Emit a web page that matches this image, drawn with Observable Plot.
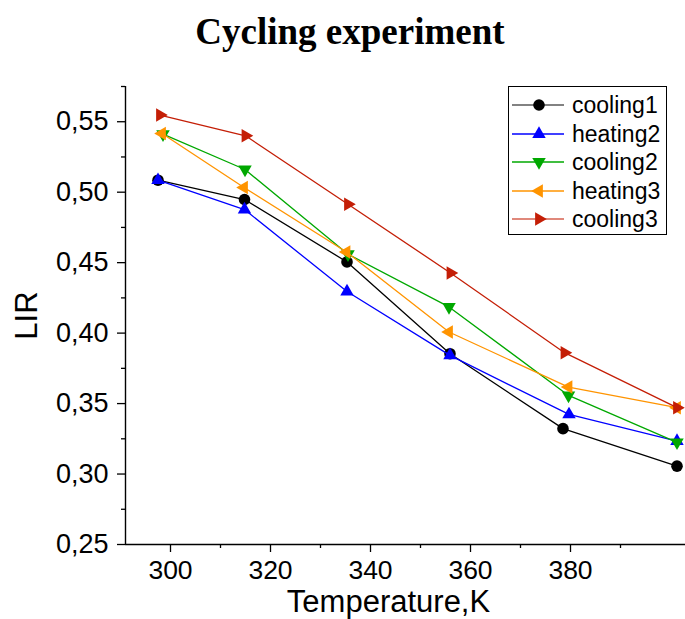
<!DOCTYPE html>
<html><head><meta charset="utf-8">
<script src="https://cdn.jsdelivr.net/npm/d3@7"></script>
<script src="https://cdn.jsdelivr.net/npm/@observablehq/plot@0.6"></script>
<style>
body{margin:0;background:#fff;}
#wrap{position:relative;width:685px;height:619px;overflow:hidden;background:#fff;}
#title{position:absolute;left:0;width:700px;top:10px;line-height:37px;text-align:center;font:bold 37px "Liberation Serif","Times New Roman",serif;color:#000;}
#legend{position:absolute;left:508px;top:86px;width:157px;height:147px;border:1.3px solid #000;background:#fff;font-family:"Liberation Sans",Arial,sans-serif;}
.row{position:absolute;left:0;height:28px;width:157px;}
.row svg{position:absolute;left:0;top:0;}
.row span{position:absolute;left:63px;top:0;line-height:28px;font-size:23px;color:#000;}
</style></head><body>
<div id="wrap"><div id="chart"></div><div id="title">Cycling experiment</div><div id="legend"></div></div>
<script>
// ---- data ----
const seriesNames = ["cooling1", "heating2", "cooling2", "heating3", "cooling3"];
const seriesColors = ["#000000", "#0000ff", "#00a800", "#ff9400", "#c41e06"];

const tempCooling1 = [297.5, 314.8, 335.3, 355.9, 378.5, 401.3];
const lirCooling1  = [0.5085, 0.4948, 0.4505, 0.3854, 0.3322, 0.3056];
const tempHeating2 = [297.5, 314.8, 335.3, 355.9, 379.7, 401.3];
const lirHeating2  = [0.5085, 0.4877, 0.4295, 0.3842, 0.3423, 0.3234];
const tempCooling2 = [298.5, 314.9, 335.5, 355.7, 379.6, 401.3];
const lirCooling2  = [0.5412, 0.5161, 0.4560, 0.4186, 0.3558, 0.3225];
const tempHeating3 = [298.3, 314.7, 335.2, 355.7, 379.6, 401.3];
const lirHeating3  = [0.5417, 0.5033, 0.4576, 0.4008, 0.3617, 0.3471];
const tempCooling3 = [297.9, 315.0, 335.5, 356.0, 378.8, 401.3];
const lirCooling3  = [0.5547, 0.5400, 0.4915, 0.4427, 0.3861, 0.3471];

const xTicks = [300, 320, 340, 360, 380];
const xMinorTicks = [310, 330, 350, 370, 390];
const yTicks = [0.25, 0.30, 0.35, 0.40, 0.45, 0.50, 0.55];
const yMinorTicks = [0.275, 0.325, 0.375, 0.425, 0.475, 0.525, 0.575];
const xDomain = [291, 403];
const yDomain = [0.25, 0.575];

// ---- symbols ----
const s3 = Math.sqrt(3);
function tri(rot) {
  return {draw(ctx, size) {
    const y = -Math.sqrt(size / (s3 * 3));
    const pts = [[0, y * 2], [-s3 * y, -y], [s3 * y, -y]].map(([a, b]) => rot(a, b));
    ctx.moveTo(pts[0][0], pts[0][1]); ctx.lineTo(pts[1][0], pts[1][1]); ctx.lineTo(pts[2][0], pts[2][1]); ctx.closePath();
  }};
}
const symbols = [
  d3.symbolCircle,
  tri((a, b) => [a, b]),
  tri((a, b) => [a, -b]),
  tri((a, b) => [b, a]),
  tri((a, b) => [-b, a])
];
const radii = [5.8, 5, 5, 5, 5];

const temps = [tempCooling1, tempHeating2, tempCooling2, tempHeating3, tempCooling3];
const lirs = [lirCooling1, lirHeating2, lirCooling2, lirHeating3, lirCooling3];
const seriesData = seriesNames.map((s, i) => temps[i].map((t, j) => ({series: s, T: t, LIR: lirs[i][j]})));

const fmt = d => d.toFixed(2).replace(".", ",");
const axisFont = "Liberation Sans, Arial, sans-serif";

const marks = [
  Plot.axisX({ticks: xTicks, tickSize: 8, tickPadding: 8, fontSize: 26.5, label: null, strokeWidth: 1.3, tickFormat: d => String(d)}),
  Plot.axisX({ticks: xMinorTicks, tickSize: 4, label: null, strokeWidth: 1.3, tickFormat: () => ""}),
  Plot.axisY({ticks: yTicks, tickSize: 8, tickPadding: 9, fontSize: 27, label: null, strokeWidth: 1.3, tickFormat: fmt}),
  Plot.axisY({ticks: yMinorTicks, tickSize: 4, label: null, strokeWidth: 1.3, tickFormat: () => ""}),
  Plot.ruleX([xDomain[0]], {stroke: "#000", strokeWidth: 1.4}),
  Plot.ruleY([yDomain[0]], {stroke: "#000", strokeWidth: 1.4}),
  Plot.text(["Temperature,K"], {frameAnchor: "bottom", lineAnchor: "middle", textAnchor: "middle", dx: -17, dy: 58, fontSize: 31, fill: "#000"}),
  Plot.text(["LIR"], {frameAnchor: "left", lineAnchor: "middle", textAnchor: "middle", dx: -98, rotate: -90, fontSize: 31, fill: "#000"})
];
seriesData.forEach((d, i) => {
  marks.push(Plot.line(d, {x: "T", y: "LIR", stroke: seriesColors[i], strokeWidth: 1.3}));
  marks.push(Plot.dot(d, {x: "T", y: "LIR", fill: seriesColors[i], symbol: symbols[i], r: radii[i]}));
});

const chart = Plot.plot({
  width: 685, height: 619,
  marginLeft: 125, marginRight: 0, marginTop: 86, marginBottom: 75,
  style: {fontFamily: axisFont, color: "#000", background: "#fff", overflow: "visible"},
  x: {domain: xDomain},
  y: {domain: yDomain},
  marks
});
document.getElementById("chart").appendChild(chart);

// ---- legend ----
const legend = d3.select("#legend");
seriesNames.forEach((s, i) => {
  const row = legend.append("div").attr("class", "row").style("top", (4 + i * 28.6) + "px");
  const svg = row.append("svg").attr("width", 60).attr("height", 28);
  svg.append("line").attr("x1", 3).attr("x2", 55).attr("y1", 14).attr("y2", 14)
    .attr("stroke", seriesColors[i]).attr("stroke-width", 1.3).attr("opacity", i === 0 ? 0.65 : (i === 4 ? 0.7 : 1));
  svg.append("path").attr("transform", "translate(30,14)")
    .attr("d", d3.symbol(symbols[i], Math.PI * radii[i] * radii[i])())
    .attr("fill", seriesColors[i]);
  row.append("span").text(s);
});
</script>
</body></html>
